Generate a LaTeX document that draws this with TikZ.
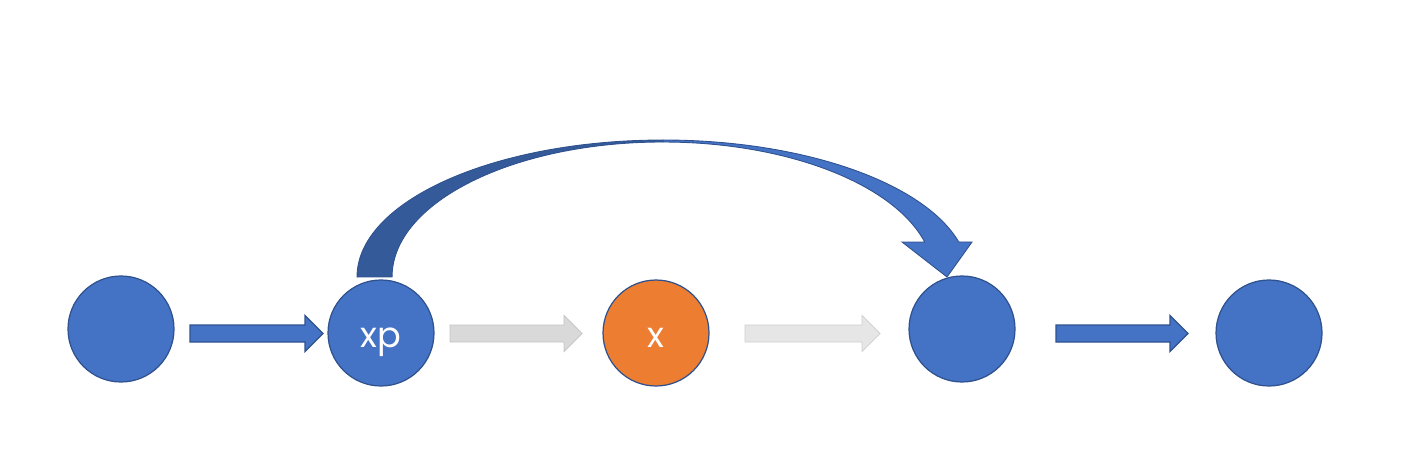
\documentclass[tikz,border=0pt]{standalone}
\usepackage{fontspec}
\setsansfont{Poppins}
\definecolor{nodeblue}{HTML}{4472C4}
\definecolor{edgeblue}{HTML}{2F528F}
\definecolor{darkblue}{HTML}{345A9A}
\definecolor{nodeorange}{HTML}{ED7D31}
\definecolor{fadeA}{HTML}{D9D9D9}
\definecolor{fadeB}{HTML}{E6E6E6}
% block arrow: style, start x, end x, centre y
\newcommand{\blockarrow}[4]{%
  \draw[#1] (#2,#4-8.5) -- (#3-18,#4-8.5) -- (#3-18,#4-18) -- (#3,#4)
    -- (#3-18,#4+18) -- (#3-18,#4+8.5) -- (#2,#4+8.5) -- cycle;}
\begin{document}
\begin{tikzpicture}[x=0.02cm, y=0.02cm,
  every node/.style={font=\sffamily\fontsize{20}{24}\selectfont, text=white},
  state/.style={circle, minimum size=2.12cm, inner sep=0pt, text height=16pt, text depth=0pt,
    fill=nodeblue, draw=edgeblue, line width=0.7pt},
  bluearrow/.style={fill=nodeblue, draw=edgeblue, line width=0.7pt},
  fadearrow/.style={fill=#1, draw=#1!90!black, line width=0.4pt}]
\useasboundingbox (0,0) rectangle (1425,450);
% the chain of states
\node[state] (s1) at (121,121) {};
\node[state] (xp) at (381,117) {xp};
\node[state, fill=nodeorange] (x) at (656,117) {x};
\node[state] (s4) at (962,121) {};
\node[state] (s5) at (1269,117) {};
% straight block arrows
\blockarrow{bluearrow}{190}{323}{116.5}
\blockarrow{fadearrow=fadeA}{450}{582}{116.5}
\blockarrow{fadearrow=fadeB}{745}{880}{116.5}
\blockarrow{bluearrow}{1056}{1188}{116.5}
% curved jump from xp over x
\draw[fill=darkblue, draw=edgeblue, line width=0.5pt] (357,173)
  arc[start angle=180, end angle=90, x radius=6.12cm, y radius=2.74cm]
  -- (663,308) arc[start angle=90, end angle=180, x radius=5.42cm, y radius=2.70cm] -- cycle;
\draw[fill=nodeblue, draw=edgeblue, line width=0.5pt] (663,310)
  arc[start angle=90, end angle=14.8, x radius=6.12cm, y radius=2.74cm]
  -- (972,208) -- (947,173) -- (902,208) -- (924.7,208)
  arc[start angle=15.03, end angle=90, x radius=5.42cm, y radius=2.70cm] -- cycle;
\end{tikzpicture}
\end{document}
